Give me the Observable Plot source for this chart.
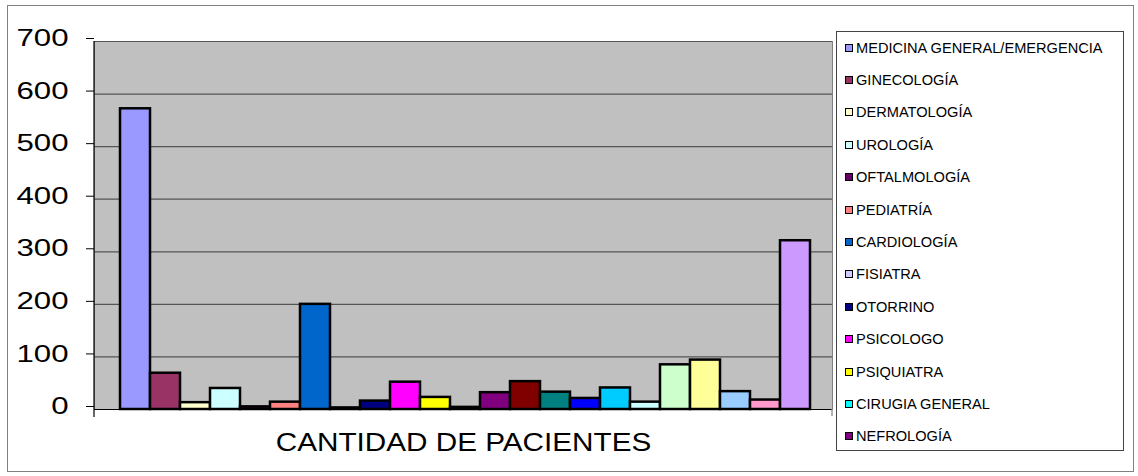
<!DOCTYPE html>
<html>
<head>
<meta charset="utf-8">
<script src="https://cdn.jsdelivr.net/npm/d3@7"></script>
<script src="https://cdn.jsdelivr.net/npm/@observablehq/plot@0.6"></script>
<style>
  html, body { margin: 0; padding: 0; background: #fff; }
  #wrap { position: relative; width: 1138px; height: 476px; overflow: hidden; font-family: "Liberation Sans", Arial, sans-serif; }
  #border { position: absolute; left: 7px; top: 5px; width: 1125px; height: 465px; border: 1px solid #808080; }
  #chart { position: absolute; left: 0; top: 0; }
  #legend { position: absolute; left: 836px; top: 31px; width: 286px; height: 418px; border: 1px solid #444; background: #fff; }
  .item { position: absolute; left: 8px; height: 20px; display: flex; align-items: center; font-size: 14.6px; color: #000; white-space: nowrap; }
  .sw { width: 6px; height: 6px; border: 1.5px solid #000; margin-right: 3px; flex: none; }
</style>
</head>
<body>
<div id="wrap">
  <div id="border"></div>
  <div id="chart"></div>
  <div id="legend"></div>
</div>
<script>
// Series (one bar per specialty); only the first 13 names are visible in the legend
const specialties = [
  "MEDICINA GENERAL/EMERGENCIA", "GINECOLOGÍA", "DERMATOLOGÍA", "UROLOGÍA",
  "OFTALMOLOGÍA", "PEDIATRÍA", "CARDIOLOGÍA", "FISIATRA", "OTORRINO",
  "PSICOLOGO", "PSIQUIATRA", "CIRUGIA GENERAL", "NEFROLOGÍA",
  "SERIE 14", "SERIE 15", "SERIE 16", "SERIE 17", "SERIE 18", "SERIE 19",
  "SERIE 20", "SERIE 21", "SERIE 22", "SERIE 23"
];
const legendLabels = [
  "MEDICINA GENERAL/EMERGENCIA", "GINECOLOGÍA", "DERMATOLOGÍA", "UROLOGÍA",
  "OFTALMOLOGÍA", "PEDIATRÍA", "CARDIOLOGÍA", "FISIATRA", "OTORRINO",
  "PSICOLOGO", "PSIQUIATRA", "CIRUGIA GENERAL", "NEFROLOGÍA"
];
const patients = [572, 69, 13, 40, 5, 14, 200, 3, 16, 52, 23, 4, 32, 53, 33, 21, 41, 14, 85, 94, 34, 18, 321];
const colors = [
  "#9999FF", "#993366", "#FFFFCC", "#CCFFFF", "#660066", "#FF8080", "#0066CC",
  "#CCCCFF", "#000080", "#FF00FF", "#FFFF00", "#00FFFF", "#800080", "#800000",
  "#008080", "#0000FF", "#00CCFF", "#CCFFFF", "#CCFFCC", "#FFFF99", "#99CCFF",
  "#FF99CC", "#CC99FF"
];
const yTicks = [0, 100, 200, 300, 400, 500, 600, 700];
const xTitle = "CANTIDAD DE PACIENTES";

const data = specialties.map((name, i) => ({name, value: patients[i]}));

const chart = Plot.plot({
  width: 1138,
  height: 476,
  marginLeft: 94,
  marginRight: 306,
  marginTop: 41,
  marginBottom: 67,
  style: {fontFamily: "'Liberation Sans', Arial, sans-serif", color: "#000", background: "transparent", overflow: "visible"},
  x: {domain: specialties, range: [117, 812], padding: 0, axis: null},
  y: {domain: [0, 700], axis: null},
  color: {domain: specialties, range: colors},
  marks: [
    Plot.frame({fill: "#c0c0c0", stroke: "#808080"}),
    Plot.ruleY(yTicks.slice(1), {stroke: "#555", strokeWidth: 1.2}),
    Plot.barY(data, {x: "name", y: "value", fill: "name", stroke: "#000", strokeWidth: 2.5}),
    Plot.ruleY([0], {stroke: "#000", strokeWidth: 1.2}),
    Plot.axisY(yTicks, {tickSize: 8, tickPadding: 18, fontSize: 24, dy: -3, label: null, tickFormat: d => String(d)}),
    Plot.text([xTitle], {frameAnchor: "bottom", lineAnchor: "top", dy: 23, fontSize: 26.5, fill: "#000"})
  ]
});
document.getElementById("chart").appendChild(chart);

// Excel-like horizontal stretch of axis texts
function stretch(t, k) {
  const w = t.getComputedTextLength();
  t.setAttribute("textLength", w * k);
  t.setAttribute("lengthAdjust", "spacingAndGlyphs");
}
chart.querySelectorAll('g[aria-label="y-axis tick label"] text').forEach(t => stretch(t, 1.3));
chart.querySelectorAll('g[aria-label="text"] text').forEach(t => stretch(t, 1.12));

// Axis line on the left plus category boundary ticks
const svg = d3.select(chart);
const y = chart.scale("y");
svg.append("line").attr("x1", 94).attr("x2", 94).attr("y1", y.apply(700)).attr("y2", y.apply(0) + 8).attr("stroke", "#000").attr("stroke-width", 1.2);
svg.append("line").attr("x1", 832).attr("x2", 832).attr("y1", y.apply(0)).attr("y2", y.apply(0) + 7).attr("stroke", "#808080").attr("stroke-width", 1.2);

// Legend (first 13 series)
const legend = document.getElementById("legend");
legendLabels.forEach((label, i) => {
  const item = document.createElement("div");
  item.className = "item";
  item.style.top = (5.5 + 32.4 * i) + "px";
  const sw = document.createElement("span");
  sw.className = "sw";
  sw.style.background = colors[i];
  const tx = document.createElement("span");
  tx.textContent = label;
  item.appendChild(sw);
  item.appendChild(tx);
  legend.appendChild(item);
});
</script>
</body>
</html>
